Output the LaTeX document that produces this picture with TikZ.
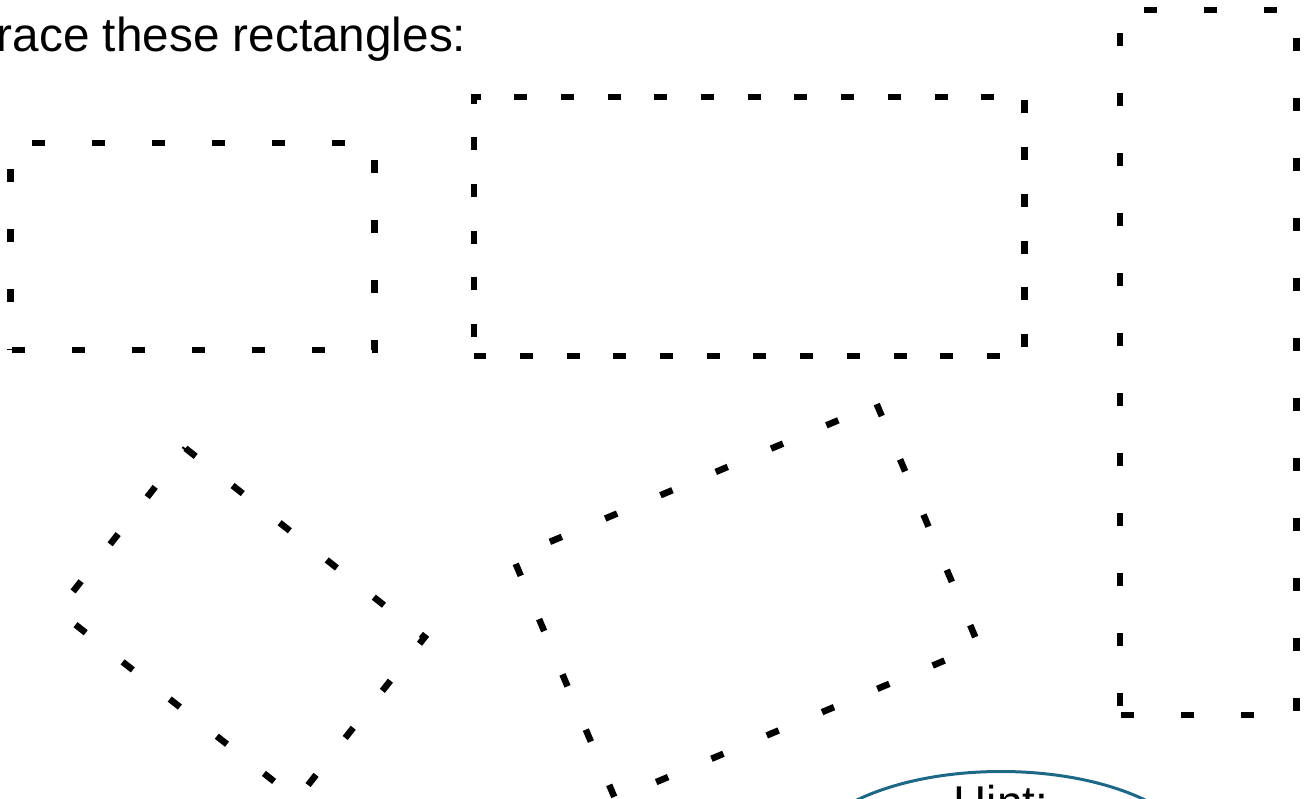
\documentclass[tikz,border=0pt]{standalone}
\usepackage{fontspec}
\setmainfont{Liberation Sans}
\usetikzlibrary{shapes.geometric}
\definecolor{hintblue}{RGB}{28,104,134}

\begin{document}
\begin{tikzpicture}[x=1pt,y=-1pt,
  trace/.style={line width=6.5pt,dash pattern=on 13pt off 47pt},
  hintring/.style={draw=hintblue,line width=3pt,ellipse,minimum width=400pt,minimum height=186pt}]
  \useasboundingbox (0,0) rectangle (1304,798);
  \clip (0,0) rectangle (1304,798);
  \node[anchor=base east,inner sep=0pt,font=\fontsize{47.7}{57}\selectfont] (title) at (466.4,51) {Trace these rectangles:};

  % upright rectangles, each path starts at its lower left corner
  \coordinate (r1bl) at (10.5,350);
  \coordinate (r1tl) at (10.5,143);
  \coordinate (r1tr) at (374.5,143);
  \coordinate (r1br) at (374.5,350);
  \draw[trace,dash phase=12pt] (r1bl) -- (r1tl) -- (r1tr) -- (r1br) -- cycle;

  \coordinate (r2bl) at (474,356);
  \coordinate (r2tl) at (474,97);
  \coordinate (r2tr) at (1024.5,97);
  \coordinate (r2br) at (1024.5,356);
  \draw[trace,dash pattern=on 13pt off 33.7pt,dash phase=27.7pt] (r2bl) -- (r2tl) -- (r2tr) -- (r2br) -- cycle;

  \coordinate (r3bl) at (1120,715);
  \coordinate (r3tl) at (1120,10);
  \coordinate (r3tr) at (1296.5,10);
  \coordinate (r3br) at (1296.5,715);
  \draw[trace,dash phase=51pt] (r3bl) -- (r3tl) -- (r3tr) -- (r3br) -- cycle;

  % tilted rectangles
  \coordinate (tatop) at (185.5,448.3);
  \coordinate (taright) at (424.6,637.3);
  \coordinate (tabot) at (296.8,799.3);
  \coordinate (taleft) at (57.9,610.8);
  \draw[trace] (tatop) -- (taright) -- (tabot) -- (taleft) -- cycle;

  \coordinate (tbtop) at (876.7,404.1);
  \coordinate (tbright) at (979,646);
  \coordinate (tbbot) at (615.3,799.3);
  \coordinate (tbleft) at (513,557.4);
  \draw[trace] (tbtop) -- (tbright) -- (tbbot) -- (tbleft) -- cycle;

  \node[hintring] (hint) at (1001,864.5) {};
  \node[anchor=base,inner sep=0pt,font=\fontsize{46}{55}\selectfont] (hinttext) at (1001,818) {Hint:};
\end{tikzpicture}
\end{document}
